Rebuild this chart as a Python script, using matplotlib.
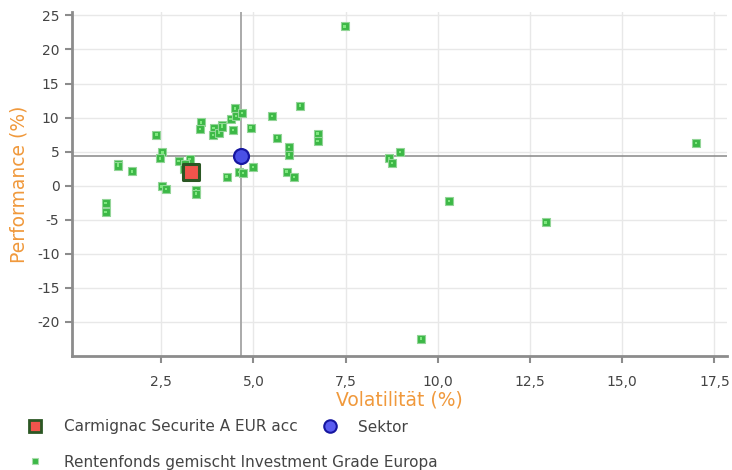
import matplotlib.pyplot as plt
from matplotlib.lines import Line2D
from matplotlib.ticker import FuncFormatter

# peer funds: volatility (%) and performance (%)
peer_vol = [0.99, 0.99, 1.33, 1.33, 1.70, 2.37, 2.53, 2.46, 2.51, 2.63,
            2.97, 3.27, 3.15, 3.13, 3.17, 3.44, 3.45, 3.57, 3.55, 3.92,
            3.91, 4.07, 4.14, 4.15, 4.44, 4.38, 4.50, 4.52, 4.69, 4.92,
            4.27, 4.61, 4.72, 4.99, 5.50, 5.64, 5.96, 5.97, 5.90, 6.10,
            6.26, 6.74, 6.74, 7.47, 8.67, 8.75, 8.97, 9.55, 10.30, 12.92,
            17.00]
peer_perf = [-2.5, -3.9, 3.2, 2.85, 2.1, 7.5, 4.9, 4.0, -0.1, -0.5,
             3.6, 3.9, 3.2, 2.5, 2.0, -0.65, -1.15, 9.3, 8.3, 8.5,
             7.45, 7.8, 8.95, 8.6, 8.15, 9.8, 11.35, 10.2, 10.65, 8.53,
             1.35, 2.05, 1.9, 2.75, 10.25, 7.06, 5.7, 4.56, 2.06, 1.32,
             11.76, 7.65, 6.53, 23.38, 4.03, 3.29, 4.96, -22.44, -2.25, -5.38,
             6.24]

fund_name = "Carmignac Securite A EUR acc"
fund_vol = 3.30
fund_perf = 1.96

sector_name = "Sektor"
sector_vol = 4.67
sector_perf = 4.35

peer_name = "Rentenfonds gemischt Investment Grade Europa"

x_ticks = [2.5, 5.0, 7.5, 10.0, 12.5, 15.0, 17.5]
y_ticks = [-20, -15, -10, -5, 0, 5, 10, 15, 20, 25]

ORANGE = "#f0993c"
TEXT = "#444444"
GREEN = "#3cb846"

plt.rcParams["font.family"] = ["DejaVu Sans"]

fig = plt.figure(figsize=(7.32, 4.70), dpi=100)
ax = fig.add_axes([72 / 732, 1 - 356 / 470, 655 / 732, 344 / 470])

ax.set_xlim(0.08, 17.84)
ax.set_ylim(-25.0, 25.5)
ax.set_xticks(x_ticks)
ax.set_yticks(y_ticks)
ax.xaxis.set_major_formatter(FuncFormatter(lambda v, p: f"{v:.1f}".replace(".", ",")))
ax.yaxis.set_major_formatter(FuncFormatter(lambda v, p: f"{v:.0f}"))
ax.grid(True, color="#e8e8e8", lw=1.0, zorder=0)
ax.set_axisbelow(True)

for side in ["top", "right"]:
    ax.spines[side].set_visible(False)
for side in ["left", "bottom"]:
    ax.spines[side].set_color("#8c8c8c")
    ax.spines[side].set_linewidth(2.0)
ax.tick_params(colors="#8c8c8c", labelcolor=TEXT, labelsize=10, length=5, width=1.5)
ax.tick_params(axis="x", pad=9)
ax.tick_params(axis="y", pad=4)

# sector crosshair
ax.axvline(sector_vol, color="#aaaaaa", lw=1.4, zorder=2)
ax.axhline(sector_perf, color="#888888", lw=1.1, zorder=2)

ax.scatter(peer_vol, peer_perf, marker="s", s=34, facecolor=GREEN,
           edgecolor="#93d598", linewidth=0.8, zorder=3)
ax.scatter(peer_vol, peer_perf, marker="s", s=3, facecolor="#7fe87f",
           edgecolor="none", zorder=4)
ax.scatter([fund_vol], [fund_perf], marker="s", s=140, facecolor="#f0544c",
           edgecolor="#2b5724", linewidth=2.2, zorder=5)
ax.scatter([sector_vol], [sector_perf], marker="o", s=115, facecolor="#4a50e6",
           edgecolor="#1616a0", linewidth=1.6, zorder=5)

ax.set_xlabel("Volatilität (%)", color=ORANGE, fontsize=13.5, labelpad=1)
ax.set_ylabel("Performance (%)", color=ORANGE, fontsize=13.5, labelpad=6)

fund_handle = Line2D([], [], ls="none", marker="s", ms=9, mfc="#f0544c",
                     mec="#2b5724", mew=2)
sector_handle = Line2D([], [], ls="none", marker="o", ms=9, mfc="#5a5cf0",
                       mec="#1616a0", mew=1.5)
peer_handle = Line2D([], [], ls="none", marker="s", ms=5, mfc=GREEN,
                     mec="#a8dcab", mew=0.8)

fig.legend([fund_handle, sector_handle], [fund_name, sector_name],
           ncol=2, loc="center left", bbox_to_anchor=(0.018, 1 - 427 / 470),
           frameon=False, fontsize=11, labelcolor=TEXT,
           handletextpad=1.3, columnspacing=1.6, handlelength=1.1)
fig.legend([peer_handle], [peer_name], loc="center left",
           bbox_to_anchor=(0.018, 1 - 462 / 470), frameon=False, fontsize=11,
           labelcolor=TEXT, handletextpad=1.3, handlelength=1.1)

fig.savefig("out.png", dpi=100)
